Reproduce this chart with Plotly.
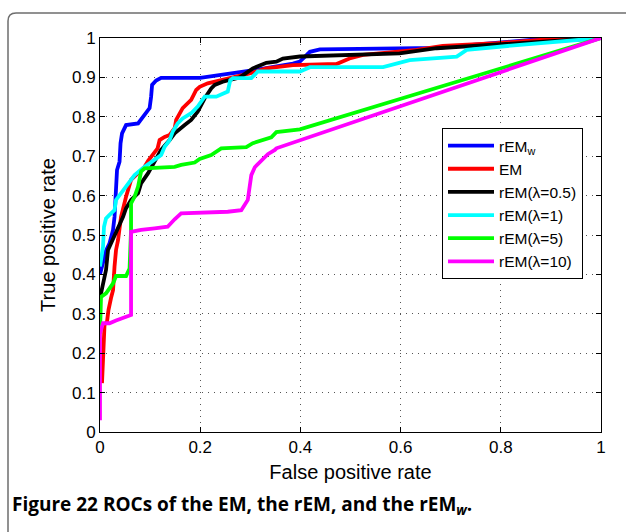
import plotly.graph_objects as go

# ROC curves: false positive rate (x) vs true positive rate (y)
fpr_remw = [0, 0.004, 0.008, 0.012, 0.019, 0.026, 0.029, 0.031, 0.032, 0.034, 0.039, 0.041, 0.044,
            0.052, 0.076, 0.086, 0.092, 0.099, 0.102, 0.104, 0.112, 0.122, 0.200, 0.300, 0.385,
            0.399, 0.419, 0.439, 0.672, 0.760, 0.860, 1]
tpr_remw = [0.40, 0.42, 0.44, 0.46, 0.479, 0.513, 0.546, 0.606, 0.631, 0.665, 0.686, 0.733, 0.758,
            0.779, 0.783, 0.800, 0.813, 0.822, 0.851, 0.881, 0.892, 0.899, 0.899, 0.917, 0.935,
            0.940, 0.965, 0.971, 0.975, 0.985, 0.995, 1]

fpr_em = [0.004, 0.006, 0.008, 0.009, 0.014, 0.017, 0.022, 0.026, 0.029, 0.032, 0.036, 0.042,
          0.052, 0.062, 0.089, 0.096, 0.115, 0.119, 0.129, 0.139, 0.149, 0.152, 0.165, 0.182,
          0.192, 0.199, 0.215, 0.229, 0.265, 0.299, 0.332, 0.385, 0.472, 0.498, 0.525, 0.632,
          0.684, 0.792, 0.898, 1]
tpr_em = [0.124, 0.191, 0.250, 0.272, 0.280, 0.310, 0.340, 0.360, 0.420, 0.462, 0.487, 0.546,
          0.597, 0.640, 0.673, 0.688, 0.720, 0.741, 0.749, 0.754, 0.771, 0.792, 0.822, 0.843,
          0.868, 0.876, 0.885, 0.889, 0.898, 0.910, 0.923, 0.931, 0.934, 0.948, 0.957, 0.970,
          0.980, 0.987, 0.997, 1]

fpr_rem05 = [0, 0.002, 0.006, 0.012, 0.016, 0.022, 0.029, 0.046, 0.052, 0.062, 0.076, 0.082,
             0.096, 0.112, 0.122, 0.139, 0.149, 0.169, 0.182, 0.195, 0.209, 0.222, 0.229, 0.245,
             0.279, 0.305, 0.319, 0.332, 0.352, 0.365, 0.399, 0.498, 0.598, 0.672, 0.898, 1]
tpr_rem05 = [0.34, 0.352, 0.377, 0.411, 0.462, 0.479, 0.496, 0.546, 0.568, 0.589, 0.606, 0.631,
             0.657, 0.695, 0.716, 0.741, 0.758, 0.779, 0.792, 0.813, 0.847, 0.872, 0.881, 0.889,
             0.900, 0.923, 0.929, 0.937, 0.940, 0.948, 0.953, 0.957, 0.961, 0.974, 0.991, 1]

fpr_rem1 = [0, 0.002, 0.006, 0.008, 0.012, 0.019, 0.029, 0.032, 0.042, 0.056, 0.069, 0.089,
            0.109, 0.122, 0.129, 0.139, 0.145, 0.155, 0.165, 0.182, 0.195, 0.205, 0.209, 0.232,
            0.255, 0.260, 0.265, 0.302, 0.315, 0.399, 0.419, 0.565, 0.618, 0.712, 0.732, 0.832,
            0.964, 1]
tpr_rem1 = [0.42, 0.437, 0.470, 0.521, 0.542, 0.551, 0.563, 0.589, 0.606, 0.631, 0.652, 0.673,
            0.690, 0.703, 0.724, 0.741, 0.762, 0.783, 0.796, 0.809, 0.826, 0.847, 0.851, 0.851,
            0.864, 0.893, 0.898, 0.898, 0.915, 0.915, 0.926, 0.926, 0.944, 0.953, 0.970, 0.982,
            0.995, 1]

fpr_rem5 = [0, 0.002, 0.012, 0.026, 0.032, 0.052, 0.059, 0.062, 0.062, 0.069, 0.076, 0.082,
            0.089, 0.149, 0.162, 0.189, 0.199, 0.222, 0.242, 0.292, 0.305, 0.342, 0.352, 0.399, 1]
tpr_rem5 = [0.25, 0.343, 0.352, 0.377, 0.396, 0.396, 0.415, 0.513, 0.580, 0.597, 0.623, 0.661,
            0.669, 0.673, 0.678, 0.684, 0.693, 0.703, 0.720, 0.723, 0.733, 0.748, 0.761, 0.768, 1]

fpr_rem10 = [0, 0, 0.006, 0.019, 0.032, 0.062, 0.062, 0.082, 0.109, 0.135, 0.149, 0.162, 0.255,
             0.282, 0.295, 0.302, 0.309, 0.322, 0.335, 0.349, 0.352, 1]
tpr_rem10 = [0.030, 0.250, 0.276, 0.276, 0.283, 0.297, 0.508, 0.513, 0.517, 0.521, 0.540, 0.555,
             0.559, 0.563, 0.589, 0.652, 0.672, 0.688, 0.705, 0.716, 0.720, 1]

series_names = ["rEM<sub>w</sub>", "EM", "rEM(λ=0.5)", "rEM(λ=1)", "rEM(λ=5)", "rEM(λ=10)"]
series_colors = ["#0000ff", "#ff0000", "#000000", "#00ffff", "#00ff00", "#ff00ff"]
series_x = [fpr_remw, fpr_em, fpr_rem05, fpr_rem1, fpr_rem5, fpr_rem10]
series_y = [tpr_remw, tpr_em, tpr_rem05, tpr_rem1, tpr_rem5, tpr_rem10]

x_ticks = [0, 0.2, 0.4, 0.6, 0.8, 1]
x_tick_labels = ["0", "0.2", "0.4", "0.6", "0.8", "1"]
y_ticks = [0, 0.1, 0.2, 0.3, 0.4, 0.5, 0.6, 0.7, 0.8, 0.9, 1]
y_tick_labels = ["0", "0.1", "0.2", "0.3", "0.4", "0.5", "0.6", "0.7", "0.8", "0.9", "1"]

AX_FONT = "Liberation Sans, Arial, Helvetica, sans-serif"

fig = go.Figure()
for name, color, xs, ys in zip(series_names, series_colors, series_x, series_y):
    fig.add_trace(go.Scatter(x=xs, y=ys, mode="lines", name=name,
                             line=dict(color=color, width=3.8)))

axis_common = dict(
    range=[0, 1], showline=True, linecolor="black", linewidth=1, mirror="ticks",
    ticks="inside", ticklen=5, tickcolor="black", zeroline=False,
    showgrid=True, gridcolor="#555555", gridwidth=1, griddash="1px,5px",
    tickfont=dict(family=AX_FONT, size=17, color="black"),
)

fig.update_xaxes(tickvals=x_ticks, ticktext=x_tick_labels,
                 title=dict(text="False positive rate", font=dict(family=AX_FONT, size=20, color="black"),
                            standoff=8),
                 **axis_common)
fig.update_yaxes(tickvals=y_ticks, ticktext=y_tick_labels,
                 title=dict(text="True positive rate", font=dict(family=AX_FONT, size=20, color="black"),
                            standoff=10),
                 **axis_common)

# Rounded outer frame around the figure panel (pixel -> paper conversion)
L, T, W, H = 100, 38, 501, 394
def px(x):
    return (x - L) / W
def py(y):
    return (T + H - y) / H
r = 8
x0, y0, x1, y1 = 8, 13, 660, 560
frame_path = (f"M {px(x0)},{py(y1)} L {px(x0)},{py(y0 + r)} "
              f"Q {px(x0)},{py(y0)} {px(x0 + r)},{py(y0)} L {px(x1)},{py(y0)}")
fig.add_shape(type="path", path=frame_path, xref="paper", yref="paper",
              line=dict(color="#6e6e6e", width=1.5), layer="below")

fig.add_annotation(
    text="<b>Figure 22 ROCs of the EM, the rEM, and the rEM<sub><i>w</i></sub>.</b>",
    xref="paper", yref="paper", x=px(10), y=py(505), xanchor="left", yanchor="middle",
    showarrow=False, font=dict(family="Open Sans, Noto Sans, sans-serif", size=19, color="black"),
)

fig.update_layout(
    width=626, height=532,
    margin=dict(l=L, r=626 - L - W, t=T, b=532 - T - H),
    paper_bgcolor="white", plot_bgcolor="white",
    showlegend=True,
    legend=dict(x=px(442), y=py(128), xanchor="left", yanchor="top",
                bgcolor="white", bordercolor="black", borderwidth=1,
                font=dict(family=AX_FONT, size=15.5, color="black"),
                itemwidth=46, tracegroupgap=0),
)

fig.write_html("out.html")
